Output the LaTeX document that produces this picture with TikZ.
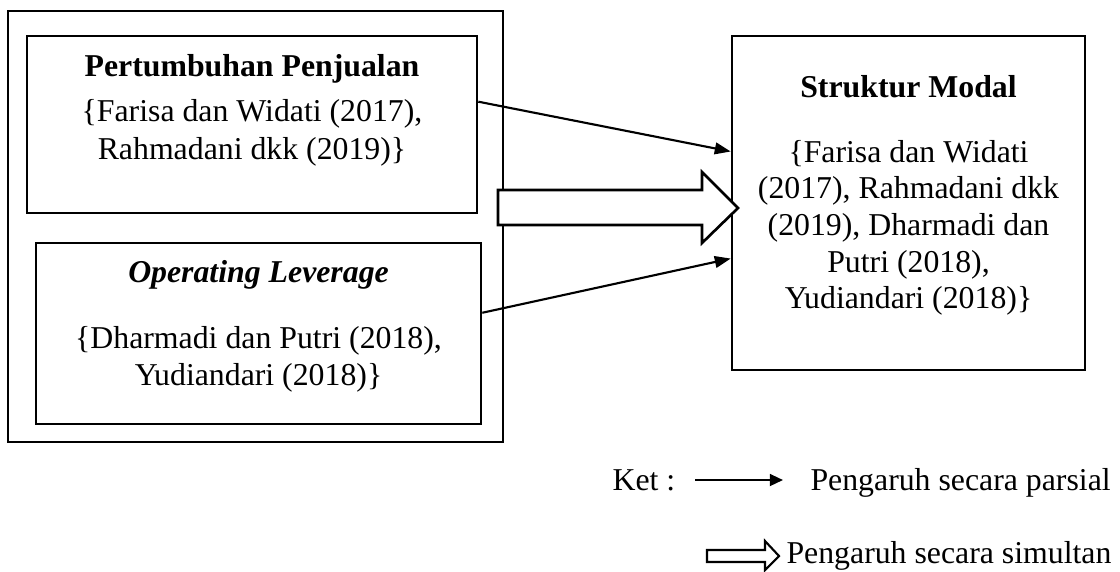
\documentclass[tikz,border=0pt]{standalone}
\usepackage{fontspec}
\setmainfont{Liberation Serif}
\usetikzlibrary{arrows.meta,calc,fit}
\begin{document}
\begin{tikzpicture}[x=0.3774pt,y=-0.3774pt,
  box/.style={draw,line width=1pt,inner sep=0pt,rectangle},
  txt/.style={anchor=base,inner sep=0pt,font=\fontsize{12}{13.8}\selectfont},
  arr/.style={line width=0.8pt,-{Triangle[length=6pt,width=4.4pt]}},
  hollow/.style={draw,line width=1pt,fill=white,line join=miter}]
\useasboundingbox (0,0) rectangle (1120,571);
% boxes
\node[box,fit={(8,11) (503,442)}] (outer) {};
\node[box,fit={(27,36) (477,213)}] (b1) {};
\node[box,fit={(36,243) (481,424)}] (b2) {};
\node[box,fit={(732,36) (1085,370)}] (sm) {};
% texts box 1
\node[txt,font=\fontsize{12}{13.8}\selectfont\bfseries] (t1) at (252,76) {Pertumbuhan Penjualan};
\node[txt] (t1a) at (252,121) {\{Farisa dan Widati (2017),};
\node[txt] (t1b) at (252,159) {Rahmadani dkk (2019)\}};
% texts box 2
\node[txt,font=\fontsize{12}{13.8}\selectfont\bfseries\itshape] (t2) at (258.5,282) {Operating Leverage};
\node[txt] (t2a) at (258.5,348) {\{Dharmadi dan Putri (2018),};
\node[txt] (t2b) at (258.5,385) {Yudiandari (2018)\}};
% texts right box
\node[txt,font=\fontsize{12}{13.8}\selectfont\bfseries] (t3) at (908.5,97) {Struktur Modal};
\node[txt] (t3a) at (908.5,162) {\{Farisa dan Widati};
\node[txt] (t3b) at (908.5,198) {(2017), Rahmadani dkk};
\node[txt] (t3c) at (908.5,235) {(2019), Dharmadi dan};
\node[txt] (t3d) at (908.5,272) {Putri (2018),};
\node[txt] (t3e) at (908.5,308) {Yudiandari (2018)\}};
% partial arrows
\coordinate (s1) at ($(b1.north east)!0.373!(b1.south east)$);
\coordinate (e1) at ($(sm.north west)!0.347!(sm.south west)$);
\coordinate (s2) at ($(b2.north east)!0.387!(b2.south east)$);
\coordinate (e2) at ($(sm.north west)!0.665!(sm.south west)$);
\draw[arr] (s1) -- (e1);
\draw[arr] (s2) -- (e2);
% simultaneous hollow arrow
\draw[hollow] (498,190) -- (702,190) -- (702,172) -- (738,208) -- (702,243) -- (702,225) -- (498,225) -- cycle;
% legend
\node[txt,anchor=base west] (ket) at (612,490) {Ket :};
\coordinate (k1) at (695,480);
\coordinate (k2) at (783,480);
\draw[line width=0.8pt,-{Triangle[length=5pt,width=4.5pt]}] (k1) -- (k2);
\node[txt,anchor=base west] (lp) at (810,490) {Pengaruh secara parsial};
\draw[hollow,line width=0.8pt] (707,550) -- (765,550) -- (765,541) -- (779,556) -- (765,570) -- (765,562) -- (707,562) -- cycle;
\node[txt,anchor=base west] (ls) at (786,563) {Pengaruh secara simultan};
\end{tikzpicture}
\end{document}
